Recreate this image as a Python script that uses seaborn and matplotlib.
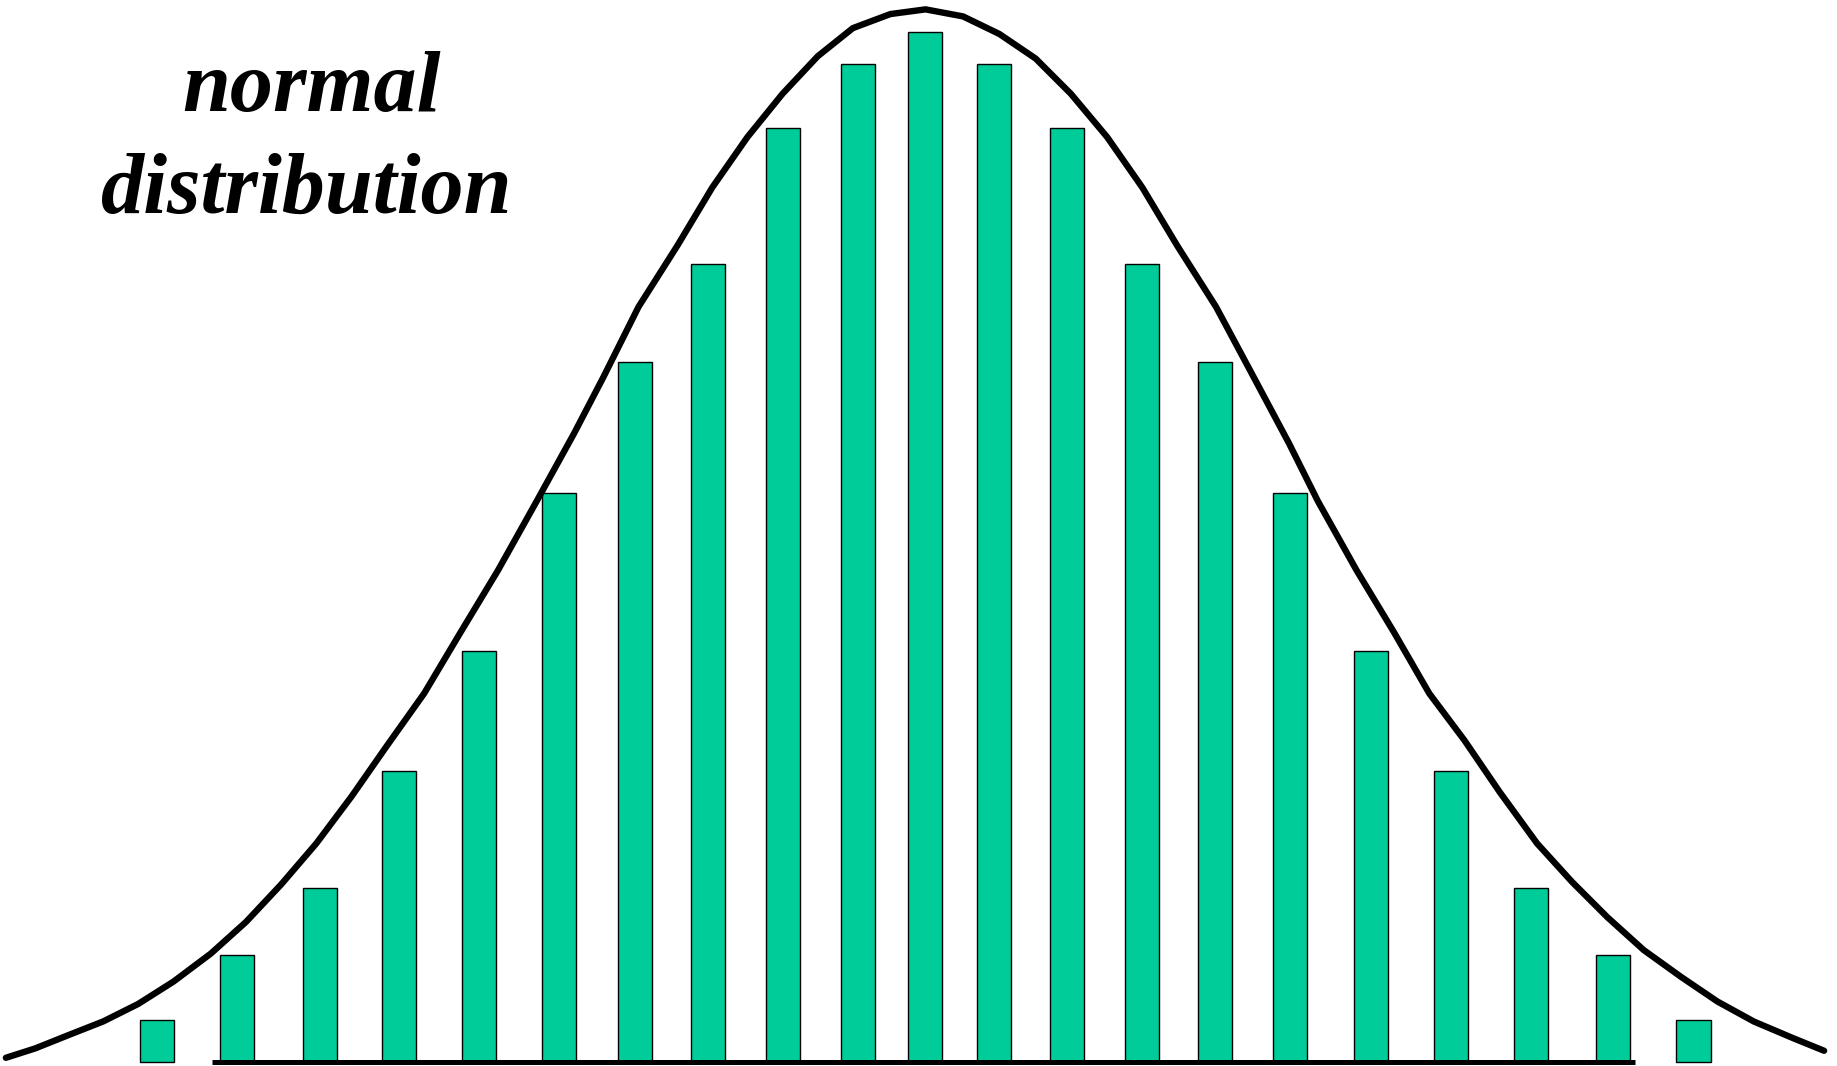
import matplotlib
matplotlib.use("Agg")
import matplotlib.pyplot as plt
from matplotlib import font_manager as fm
import seaborn as sns
import pandas as pd

# ---- data (units: reference pixels, heights above the baseline) ----
bar_x = [134, 202, 273, 340.5, 409, 477.5, 542, 604.5, 668, 732.5, 789.5,
         848.5, 911, 974.5, 1037, 1101.5, 1170.5, 1238.5, 1306.5, 1376.5, 1445.5]
bar_h = [36, 92, 149, 249, 351, 486, 598, 682, 798, 852, 880,
         852, 798, 682, 598, 486, 351, 249, 149, 92, 36]

curve_x = [5, 30, 60, 88, 118, 148, 180, 210, 240, 270, 300, 330, 362, 393, 425,
           458, 490, 515, 545, 578, 608, 638, 668, 698, 728, 760, 790, 822, 853,
           884, 914, 945, 975, 1005, 1038, 1068, 1100, 1125, 1158, 1190, 1220,
           1250, 1280, 1312, 1342, 1372, 1403, 1435, 1466, 1497, 1530, 1557]
curve_h = [4, 12, 24, 35, 50, 69, 93, 120, 152, 187, 227, 270, 315, 367, 420,
           479, 537, 585, 645, 697, 747, 790, 827, 859, 883, 895, 899, 893, 878,
           857, 827, 790, 747, 697, 645, 589, 529, 479, 420, 367, 315, 275, 231,
           187, 154, 124, 96, 73, 52, 35, 21, 10]

baseline_x = [181, 1396]
baseline_h = [0, 0]

title_lines = ["normal", "distribution"]

sns.set_style("white")

font_path = fm.findfont(fm.FontProperties(family="Liberation Serif",
                                          weight="bold", style="italic"))
title_font = fm.FontProperties(fname=font_path, size=62)

fig = plt.figure(figsize=(18.37, 10.66), dpi=100)
ax = fig.add_axes([0, 0, 1, 1])

bars = pd.DataFrame({"x": bar_x, "h": bar_h})
sns.barplot(data=bars, x="x", y="h", native_scale=True, width=0.51,
            color="#00CC99", saturation=1, edgecolor="black", linewidth=1.0,
            errorbar=None, ax=ax)

curve = pd.DataFrame({"x": curve_x, "h": curve_h})
sns.lineplot(data=curve, x="x", y="h", sort=False, estimator=None,
             color="black", linewidth=4.6, ax=ax, zorder=3)

base = pd.DataFrame({"x": baseline_x, "h": baseline_h})
sns.lineplot(data=base, x="x", y="h", sort=False, estimator=None,
             color="black", linewidth=3.6, ax=ax, zorder=4,
             solid_capstyle="butt")

for label, xc, yb in [(title_lines[0], 265.5, 812), (title_lines[1], 261.5, 725)]:
    ax.text(xc, yb, label, ha="center", va="baseline",
            fontproperties=title_font, color="black")

ax.set_xlim(0, 1568)
ax.set_ylim(-3, 907)
ax.axis("off")

fig.savefig("out.png", dpi=100)
